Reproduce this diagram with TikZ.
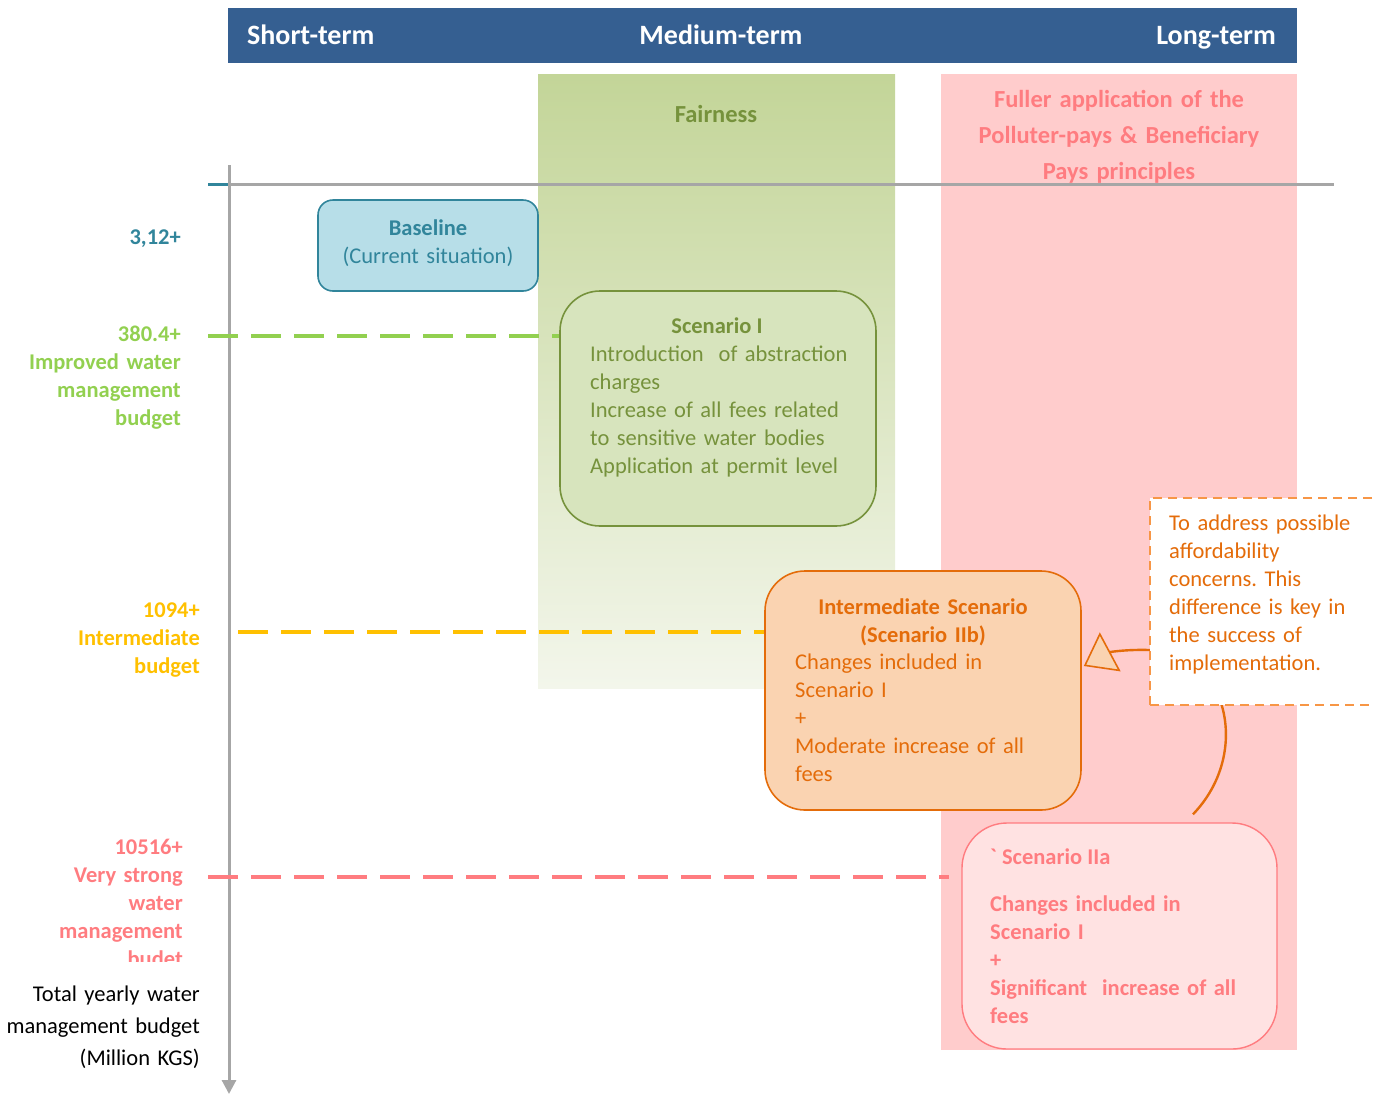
\documentclass[tikz,border=0pt]{standalone}
\usepackage{fontspec}
\setmainfont{Carlito}
\frenchspacing
\usetikzlibrary{arrows.meta,calc}
\definecolor{hdrblue}{RGB}{53,95,145}
\definecolor{tealtxt}{RGB}{49,133,155}
\definecolor{basefill}{RGB}{183,222,232}
\definecolor{fairtop}{RGB}{195,213,152}
\definecolor{fairbot}{RGB}{243,246,235}
\definecolor{olive}{RGB}{118,146,60}
\definecolor{scfill}{RGB}{215,228,189}
\definecolor{lgreen}{RGB}{146,208,80}
\definecolor{ambertxt}{RGB}{255,192,0}
\definecolor{salmon}{RGB}{255,124,128}
\definecolor{longfill}{RGB}{255,204,204}
\definecolor{iiafill}{RGB}{255,226,226}
\definecolor{orangetxt}{RGB}{228,108,10}
\definecolor{peachfill}{RGB}{250,211,177}
\definecolor{notedash}{RGB}{247,150,70}
\definecolor{axisgray}{RGB}{166,166,166}
\begin{document}
\begin{tikzpicture}[x=1pt,y=-1pt,
  txt/.style={inner sep=0pt, font=\fontsize{22.5}{28}\selectfont},
  btxt/.style={txt, font=\fontsize{22.5}{28}\selectfont\bfseries},
  hdr/.style={inner sep=0pt, text=white, font=\fontsize{28}{30}\selectfont\bfseries},
  scenbox/.style={draw, line width=1.6pt, rounded corners=#1},
  budgetline/.style={line width=3.5pt, dash pattern=on 30pt off 13pt},
  axisline/.style={axisgray, line width=3pt}]
\useasboundingbox (0,0) rectangle (1374,1096);
\clip (0,0) rectangle (1374,1096);

% time bands
\fill[hdrblue] (228,8) rectangle (1297,63);
\fill[top color=fairtop, bottom color=fairbot] (538,74) rectangle (895,688);
\fill[longfill] (941,74) rectangle (1297,1050);

\node[hdr, anchor=base west] (short) at (247,44) {Short-term};
\node[hdr, anchor=base] (medium) at (721,44) {Medium-term};
\node[hdr, anchor=base east] (long) at (1276,44) {Long-term};

\node[btxt, anchor=base, text=olive, font=\fontsize{24.5}{36}\selectfont\bfseries] (fair) at (716,122) {Fairness};
\node[btxt, anchor=base, text=salmon, text width=330pt, align=center,
      font=\fontsize{24.5}{36}\selectfont\bfseries] (polluter) at (1119,107)
      {Fuller application of the\\ Polluter-pays \& Beneficiary\\ Pays principles};

% axes
\draw[axisline] (228,184) -- (1334,184);
\draw[tealtxt, line width=3pt] (208,184) -- (229,184);
\draw[axisline, -{Triangle[length=14pt,width=14pt]}] (229,165) -- (229,1094);

% scenario boxes
\node[scenbox=15pt, draw=tealtxt, fill=basefill, minimum width=220pt, minimum height=91pt] (base) at (428,245.5) {};
\node[btxt, anchor=base, text=tealtxt, text width=220pt, align=center] (basetxt) at (428,235)
      {Baseline\\ \mdseries(Current situation)};

\node[scenbox=40pt, draw=olive, fill=scfill, minimum width=316pt, minimum height=235pt] (sc1) at (718,408.5) {};
\node[btxt, anchor=base, text=olive] (sc1title) at (717,333) {Scenario I};
\node[txt, anchor=base west, text=olive, text width=280pt, align=left] (sc1txt) at (590,361)
      {Introduction\ \ of abstraction\\ charges\\ Increase of all fees related\\ to sensitive water bodies\\ Application at permit level};

\node[scenbox=40pt, draw=orangetxt, fill=peachfill, minimum width=316pt, minimum height=239pt] (inter) at (923,690.5) {};
\node[btxt, anchor=base, text=orangetxt, text width=300pt, align=center] (intertitle) at (923,614)
      {Intermediate Scenario\\ (Scenario IIb)};
\node[txt, anchor=base west, text=orangetxt, text width=270pt, align=left] (intertxt) at (795,669)
      {Changes included in\\ Scenario I\\ +\\ Moderate increase of all\\ fees};

\node[scenbox=45pt, draw=salmon, fill=iiafill, line width=1.4pt, minimum width=315pt, minimum height=226pt] (iia) at (1119.5,936) {};
\node[btxt, anchor=base west, text=salmon] (iiatitle) at (990,864) {\textasciigrave\ Scenario IIa};
\node[btxt, anchor=base west, text=salmon, text width=270pt, align=left] (iiatxt) at (990,911)
      {Changes included in\\ Scenario I\\ +\\ Significant\ \ increase of all\\ fees};

% budget levels
\coordinate (g380) at (208,336);
\coordinate (g1094) at (238,632);
\coordinate (g10516) at (208,877);
\coordinate (g10516end) at ($(iia.west)+(-12,0)$);
\draw[budgetline, lgreen] (g380) -- (g380 -| sc1.west);
\draw[budgetline, ambertxt] (g1094) -- (g1094 -| inter.west);
\draw[budgetline, salmon] (g10516) -- (g10516 -| g10516end);

\node[btxt, anchor=base east, text=tealtxt] (l312) at (181,244) {3,12+};
\node[btxt, anchor=base east, text=lgreen, text width=180pt, align=right] (l380) at (181,341)
      {380.4+\\ Improved water\\ management\\ budget};
\node[btxt, anchor=base east, text=ambertxt, text width=180pt, align=right] (l1094) at (200,617)
      {1094+\\ Intermediate\\ budget};
\begin{scope}
\clip (0,820) rectangle (228,961);
\node[btxt, anchor=base east, text=salmon, text width=180pt, align=right] (l10516) at (183,854)
      {10516+\\ Very strong\\ water\\ management\\ budet};
\end{scope}
\node[txt, anchor=base east, text width=200pt, align=right, font=\fontsize{22.5}{32}\selectfont] (ltotal) at (200,1001)
      {Total yearly water\\ management budget\\ (Million KGS)};

% affordability note
\coordinate (arrstart) at ($(iia.north)+(73.5,-8)$);
\coordinate (arrend) at ($(inter.east)+(2,-24.5)$);
\draw[orangetxt, line width=2.4pt, -{Triangle[length=30pt,width=44pt,fill=peachfill,line width=1.6pt]}]
      (arrstart) .. controls (1250,755) and (1228,662) .. (1165,651)
      .. controls (1135,648) and (1110,652) .. (arrend);
\node[draw=notedash, fill=white, line width=2pt, dash pattern=on 9pt off 6pt,
      minimum width=240pt, minimum height=207pt] (note) at (1270,601.5) {};
\node[txt, anchor=base west, text=orangetxt, text width=200pt, align=left] (notetxt) at (1169,530)
      {To address possible\\ affordability\\ concerns. This\\ difference is key in\\ the success of\\ implementation.};
\end{tikzpicture}
\end{document}
